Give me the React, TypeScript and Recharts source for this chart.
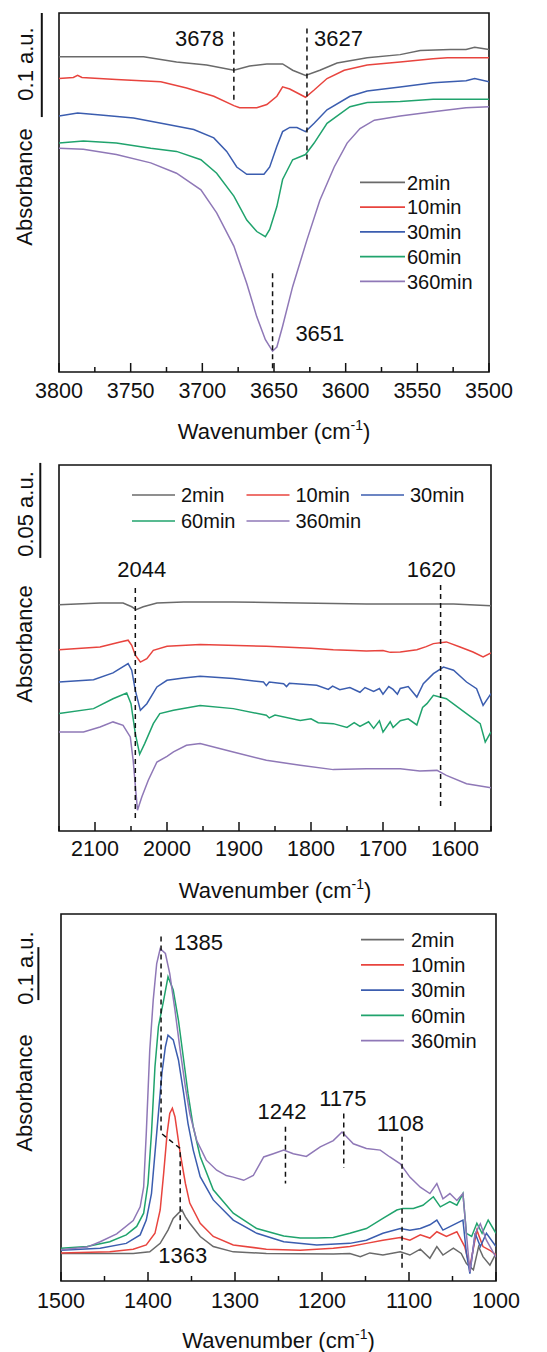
import React from "react";
import {
  LineChart,
  Line,
  XAxis,
  YAxis,
  ReferenceArea,
  ReferenceLine,
  ReferenceDot,
  Legend,
} from "recharts";

type Pt = [number, number]; // [wavenumber, absorbance]

const names = ["2min", "10min", "30min", "60min", "360min"];
const colors = ["#6a6a6a", "#e8443e", "#3b5daf", "#20a36d", "#8f78b7"];

// ---- O-H region, 3800-3500 cm-1
const oh2: Pt[] = [
  [3800, 0.303], [3741, 0.303], [3718, 0.298], [3697, 0.295], [3678, 0.29], [3667, 0.294],
  [3655, 0.296], [3644, 0.296], [3637, 0.29], [3628, 0.285], [3618, 0.29], [3606, 0.297],
  [3585, 0.302], [3562, 0.305], [3548, 0.309], [3527, 0.31], [3516, 0.31], [3510, 0.312], [3500, 0.31],
];
const oh10: Pt[] = [
  [3800, 0.282], [3790, 0.283], [3787, 0.285], [3784, 0.283], [3760, 0.281], [3729, 0.279],
  [3711, 0.273], [3692, 0.265], [3678, 0.256], [3674, 0.254], [3662, 0.254], [3655, 0.257],
  [3648, 0.265], [3644, 0.274], [3639, 0.272], [3628, 0.264], [3622, 0.271], [3613, 0.282],
  [3601, 0.29], [3585, 0.295], [3562, 0.298], [3539, 0.301], [3529, 0.302], [3500, 0.302],
];
const oh30: Pt[] = [
  [3800, 0.246], [3787, 0.249], [3771, 0.247], [3748, 0.244], [3725, 0.238], [3706, 0.233],
  [3692, 0.225], [3683, 0.212], [3676, 0.197], [3669, 0.19], [3657, 0.19], [3653, 0.197],
  [3648, 0.217], [3644, 0.231], [3639, 0.235], [3634, 0.235], [3628, 0.231], [3622, 0.239],
  [3613, 0.252], [3597, 0.265], [3585, 0.27], [3562, 0.274], [3539, 0.278], [3516, 0.28],
  [3510, 0.282], [3500, 0.279],
];
const oh60: Pt[] = [
  [3800, 0.22], [3783, 0.222], [3760, 0.22], [3736, 0.215], [3718, 0.212], [3701, 0.204],
  [3690, 0.191], [3678, 0.169], [3669, 0.146], [3662, 0.135], [3656, 0.13], [3653, 0.137],
  [3648, 0.159], [3644, 0.185], [3637, 0.204], [3628, 0.209], [3622, 0.22], [3613, 0.239],
  [3597, 0.255], [3585, 0.259], [3562, 0.26], [3539, 0.262], [3500, 0.262],
];
const oh360: Pt[] = [
  [3800, 0.215], [3783, 0.214], [3760, 0.209], [3736, 0.201], [3718, 0.191], [3701, 0.175],
  [3690, 0.153], [3678, 0.121], [3669, 0.085], [3662, 0.053], [3656, 0.031], [3651, 0.02],
  [3648, 0.024], [3644, 0.044], [3637, 0.082], [3627, 0.127], [3618, 0.165], [3608, 0.197],
  [3599, 0.22], [3590, 0.234], [3580, 0.242], [3562, 0.246], [3539, 0.25], [3516, 0.254], [3500, 0.255],
];
const ohMarks: Pt[][] = [
  [[3678, 0.327], [3678, 0.2615]],
  [[3627, 0.33], [3627, 0.201]],
  [[3651, 0.095], [3651, 0]],
];
const ohTicks = [3800, 3775, 3750, 3725, 3700, 3675, 3650, 3625, 3600, 3575, 3550, 3525, 3500];

// ---- 2150-1550 cm-1
const mid2: Pt[] = [
  [2150, 0.119], [2093, 0.12], [2061, 0.12], [2049, 0.118], [2043, 0.1165], [2033, 0.118],
  [2014, 0.12], [1977, 0.1205], [1908, 0.1205], [1815, 0.12], [1723, 0.1195], [1630, 0.1195],
  [1602, 0.1195], [1550, 0.1185],
];
const mid10: Pt[] = [
  [2150, 0.0954], [2093, 0.0968], [2065, 0.0995], [2054, 0.1004], [2049, 0.0977], [2044, 0.0925],
  [2037, 0.0889], [2028, 0.0907], [2019, 0.0951], [2000, 0.0972], [1954, 0.0982], [1862, 0.0972],
  [1800, 0.0962], [1769, 0.0954], [1740, 0.095], [1723, 0.0947], [1700, 0.095], [1690, 0.094],
  [1676, 0.0942], [1653, 0.0954], [1640, 0.097], [1630, 0.0986], [1612, 0.0995], [1593, 0.0968],
  [1575, 0.0942], [1561, 0.0916], [1550, 0.0937],
];
const mid30: Pt[] = [
  [2150, 0.0784], [2102, 0.0796], [2075, 0.0832], [2054, 0.0881], [2049, 0.0846], [2044, 0.074],
  [2037, 0.0635], [2028, 0.067], [2014, 0.0758], [2000, 0.0793], [1977, 0.0805], [1954, 0.0814],
  [1908, 0.0802], [1866, 0.0784], [1862, 0.0765], [1858, 0.0784], [1838, 0.0775], [1834, 0.076],
  [1830, 0.0778], [1792, 0.0767], [1776, 0.0745], [1770, 0.0762], [1760, 0.0744], [1746, 0.0755],
  [1732, 0.073], [1725, 0.0755], [1713, 0.0735], [1705, 0.075], [1700, 0.072], [1692, 0.076],
  [1686, 0.0745], [1680, 0.072], [1676, 0.075], [1665, 0.076], [1653, 0.0705], [1644, 0.0775],
  [1630, 0.0828], [1616, 0.0863], [1602, 0.0846], [1584, 0.0784], [1570, 0.0749], [1561, 0.0661],
  [1550, 0.0723],
];
const mid60: Pt[] = [
  [2150, 0.0618], [2102, 0.0644], [2075, 0.0696], [2056, 0.0726], [2050, 0.067], [2044, 0.0512],
  [2038, 0.0404], [2031, 0.046], [2019, 0.0565], [2010, 0.0618], [1991, 0.0635], [1954, 0.0661],
  [1908, 0.0644], [1862, 0.0609], [1858, 0.0595], [1850, 0.061], [1815, 0.0582], [1800, 0.059],
  [1790, 0.057], [1769, 0.0565], [1750, 0.0545], [1740, 0.057], [1732, 0.055], [1720, 0.0575],
  [1713, 0.054], [1705, 0.058], [1700, 0.052], [1690, 0.0575], [1686, 0.0545], [1676, 0.058],
  [1665, 0.059], [1653, 0.0558], [1645, 0.065], [1639, 0.067], [1630, 0.0714], [1612, 0.0696],
  [1584, 0.0618], [1565, 0.0565], [1558, 0.0468], [1550, 0.0521],
];
const mid360: Pt[] = [
  [2150, 0.0521], [2116, 0.0521], [2093, 0.0547], [2075, 0.0574], [2061, 0.0556], [2051, 0.0495],
  [2047, 0.0372], [2043, 0.0196], [2041, 0.0109], [2035, 0.0179], [2026, 0.0267], [2014, 0.0363],
  [2000, 0.0393], [1991, 0.0416], [1973, 0.0451], [1954, 0.046], [1908, 0.0416], [1862, 0.0372],
  [1815, 0.0346], [1769, 0.0323], [1723, 0.0328], [1676, 0.0328], [1649, 0.0316], [1625, 0.0319],
  [1612, 0.0293], [1584, 0.0249], [1550, 0.0228],
];
const midMarks: Pt[][] = [
  [[2044, 0.1279], [2044, 0.0058]],
  [[1620, 0.1295], [1620, 0.0126]],
];
const midTicks = [2150, 2100, 2050, 2000, 1950, 1900, 1850, 1800, 1750, 1700, 1650, 1600, 1550];

// ---- 1500-1000 cm-1
const low2: Pt[] = [
  [1500, 0.052], [1417, 0.052], [1398, 0.055], [1386, 0.071], [1377, 0.096], [1371, 0.118],
  [1365, 0.128], [1361, 0.134], [1357, 0.121], [1352, 0.109], [1340, 0.084], [1325, 0.065],
  [1302, 0.055], [1264, 0.052], [1187, 0.051], [1168, 0.052], [1156, 0.046], [1145, 0.053],
  [1130, 0.049], [1110, 0.055], [1099, 0.049], [1087, 0.06], [1076, 0.043], [1068, 0.065],
  [1061, 0.049], [1049, 0.062], [1040, 0.052], [1034, 0.033], [1026, 0.021], [1020, 0.065],
  [1015, 0.046], [1007, 0.03], [1000, 0.052],
];
const low10: Pt[] = [
  [1500, 0.053], [1444, 0.055], [1417, 0.06], [1402, 0.068], [1392, 0.09], [1386, 0.134],
  [1382, 0.203], [1378, 0.279], [1375, 0.316], [1372, 0.326], [1369, 0.31], [1363, 0.241],
  [1357, 0.184], [1352, 0.147], [1340, 0.109], [1325, 0.084], [1302, 0.068], [1264, 0.06],
  [1225, 0.058], [1187, 0.062], [1168, 0.065], [1149, 0.071], [1130, 0.077], [1110, 0.082],
  [1099, 0.077], [1087, 0.087], [1076, 0.081], [1068, 0.093], [1057, 0.084], [1045, 0.093],
  [1036, 0.065], [1030, 0.027], [1022, 0.096], [1015, 0.065], [1007, 0.058], [1000, 0.049],
];
const low30: Pt[] = [
  [1500, 0.058], [1455, 0.062], [1425, 0.071], [1409, 0.087], [1402, 0.115], [1396, 0.165],
  [1390, 0.279], [1384, 0.392], [1380, 0.442], [1377, 0.464], [1371, 0.455], [1365, 0.417],
  [1359, 0.354], [1354, 0.297], [1348, 0.247], [1340, 0.197], [1325, 0.153], [1302, 0.115],
  [1275, 0.09], [1244, 0.074], [1206, 0.068], [1168, 0.071], [1149, 0.077], [1130, 0.09],
  [1110, 0.099], [1099, 0.096], [1087, 0.099], [1076, 0.106], [1068, 0.115], [1061, 0.096],
  [1049, 0.106], [1038, 0.115], [1034, 0.052], [1030, 0.014], [1024, 0.09], [1018, 0.065],
  [1011, 0.09], [1000, 0.065],
];
const low60: Pt[] = [
  [1500, 0.062], [1470, 0.065], [1444, 0.074], [1425, 0.087], [1413, 0.103], [1405, 0.128],
  [1400, 0.184], [1396, 0.279], [1392, 0.404], [1388, 0.48], [1382, 0.53], [1377, 0.574],
  [1371, 0.549], [1365, 0.492], [1359, 0.417], [1354, 0.354], [1348, 0.291], [1340, 0.235],
  [1325, 0.172], [1302, 0.128], [1275, 0.099], [1244, 0.085], [1225, 0.081], [1206, 0.081],
  [1187, 0.082], [1168, 0.09], [1149, 0.099], [1130, 0.118], [1114, 0.134], [1107, 0.137],
  [1095, 0.137], [1084, 0.143], [1072, 0.159], [1064, 0.14], [1053, 0.15], [1045, 0.143],
  [1038, 0.165], [1034, 0.09], [1028, 0.084], [1022, 0.109], [1016, 0.09], [1009, 0.115], [1000, 0.09],
];
const low360: Pt[] = [
  [1500, 0.059], [1470, 0.064], [1455, 0.074], [1436, 0.089], [1417, 0.114], [1409, 0.14],
  [1405, 0.177], [1402, 0.278], [1398, 0.435], [1394, 0.53], [1390, 0.599], [1386, 0.627],
  [1380, 0.618], [1375, 0.58], [1369, 0.511], [1363, 0.435], [1357, 0.366], [1352, 0.316],
  [1344, 0.265], [1333, 0.228], [1321, 0.209], [1310, 0.199], [1302, 0.196], [1290, 0.19],
  [1279, 0.199], [1267, 0.234], [1256, 0.24], [1244, 0.247], [1233, 0.24], [1218, 0.235],
  [1202, 0.253], [1187, 0.265], [1177, 0.281], [1164, 0.259], [1149, 0.25], [1133, 0.247],
  [1122, 0.234], [1110, 0.221], [1099, 0.196], [1087, 0.177], [1076, 0.165], [1068, 0.184],
  [1061, 0.155], [1053, 0.165], [1045, 0.152], [1038, 0.165], [1034, 0.089], [1030, 0.017],
  [1024, 0.089], [1018, 0.108], [1011, 0.077], [1000, 0.045],
];
const lowMarks: Pt[][] = [
  [[1385, 0.65], [1385, 0.279], [1363, 0.25], [1363, 0.096]],
  [[1242, 0.291], [1242, 0.184]],
  [[1175, 0.316], [1175, 0.213]],
  [[1108, 0.272], [1108, 0.021]],
];
const lowTicks = [1500, 1450, 1400, 1350, 1300, 1250, 1200, 1150, 1100, 1050, 1000];

const W = 547;
const FONT = "'Liberation Sans', Arial, sans-serif";
const toRows = (pts: Pt[]) => pts.map(([wn, a]) => ({ wn, a }));

type Note = { text: string; wn: number; a: number };
type LegendCfg = { left: number; top: number; cols: number; colW: number; rowH: number; line: number; gap: number };
type PanelProps = {
  top: number;
  height: number;
  margin: { top: number; right: number; bottom: number; left: number };
  axisH: number;
  xDomain: [number, number];
  ticks: number[];
  major: number;
  tickDy: number;
  yMax: number;
  curves: Pt[][];
  marks: Pt[][];
  notes: Note[];
  bar: { wn: number; a0: number; a1: number };
  barText: string;
  barTextY: number;
  absY: number;
  legend: LegendCfg;
};

function renderTick(props: any, major: number, dy: number) {
  const { x, y, payload } = props;
  const isMajor = payload.value % major === 0;
  return (
    <g>
      <line x1={x} x2={x} y1={y} y2={y - (isMajor ? 9 : 5)} stroke="#111" strokeWidth={1.5} />
      {isMajor && (
        <text x={x} y={y + dy} textAnchor="middle" fontSize={21.5} fill="#111">
          {payload.value}
        </text>
      )}
    </g>
  );
}

function AxisTitle(props: any) {
  const { x, y, width } = props.viewBox;
  return (
    <text x={x + width / 2} y={y + 67} textAnchor="middle" fontSize={22} fill="#111">
      Wavenumber (cm
      <tspan dy={-9} fontSize={14}>-1</tspan>
      <tspan dy={9}>)</tspan>
    </text>
  );
}

function makeLegend(cfg: LegendCfg) {
  return (props: any) => {
    const payload = props.payload || [];
    // only the five time series, in their original order
    const items = names
      .map((n) => payload.find((it: any) => it.value === n))
      .filter(Boolean);
    const rows = Math.ceil(items.length / cfg.cols);
    return (
      <svg width={cfg.cols * cfg.colW} height={rows * cfg.rowH} style={{ display: "block", overflow: "visible" }}>
        {items.map((it: any, i: number) => {
          const x = (i % cfg.cols) * cfg.colW;
          const y = Math.floor(i / cfg.cols) * cfg.rowH + cfg.rowH / 2;
          return (
            <g key={it.value}>
              <line x1={x} x2={x + cfg.line} y1={y} y2={y} stroke={it.color} strokeWidth={1.6} />
              <text x={x + cfg.line + cfg.gap} y={y} dy="0.36em" fontSize={20} fill="#111">
                {it.value}
              </text>
            </g>
          );
        })}
      </svg>
    );
  };
}

function Panel(p: PanelProps) {
  const lg = p.legend;
  return (
    <div style={{ position: "absolute", left: 0, top: p.top, width: W, height: p.height }}>
      <LineChart width={W} height={p.height} margin={p.margin}>
        <XAxis
          dataKey="wn"
          type="number"
          domain={p.xDomain}
          reversed
          allowDataOverflow
          ticks={p.ticks}
          interval={0}
          axisLine={false}
          tickLine={false}
          tickSize={0}
          tickMargin={0}
          height={p.axisH}
          tick={(tp: any) => renderTick(tp, p.major, p.tickDy)}
          label={<AxisTitle />}
        />
        <YAxis hide type="number" domain={[0, p.yMax]} allowDataOverflow />
        <ReferenceArea
          x1={p.xDomain[0]}
          x2={p.xDomain[1]}
          y1={0}
          y2={p.yMax}
          fill="none"
          fillOpacity={0}
          stroke="#111"
          strokeWidth={1.6}
          ifOverflow="visible"
        />
        <ReferenceLine
          segment={[{ x: p.bar.wn, y: p.bar.a0 }, { x: p.bar.wn, y: p.bar.a1 }]}
          stroke="#111"
          strokeWidth={2}
          ifOverflow="visible"
        />
        {p.curves.map((pts, i) => (
          <Line
            key={names[i]}
            data={toRows(pts)}
            dataKey="a"
            name={names[i]}
            type="linear"
            stroke={colors[i]}
            strokeWidth={1.5}
            dot={false}
            isAnimationActive={false}
          />
        ))}
        {p.marks.map((pts, i) => (
          <Line
            key={"mark" + i}
            data={toRows(pts)}
            dataKey="a"
            name={"mark" + i}
            type="linear"
            stroke="#111"
            strokeWidth={1.5}
            strokeDasharray="5 4"
            dot={false}
            legendType="none"
            isAnimationActive={false}
          />
        ))}
        {p.notes.map((n) => (
          <ReferenceDot
            key={n.text}
            x={n.wn}
            y={n.a}
            r={0}
            fill="none"
            stroke="none"
            label={{ value: n.text, position: "center", fontSize: 22, fill: "#111" }}
          />
        ))}
        <Legend
          layout="horizontal"
          verticalAlign="middle"
          align="center"
          wrapperStyle={{ left: lg.left, top: lg.top, width: lg.cols * lg.colW, height: "auto" }}
          content={makeLegend(lg)}
        />
      </LineChart>
      <svg
        width={W}
        height={p.height}
        style={{ position: "absolute", left: 0, top: 0, pointerEvents: "none" }}
      >
        <text transform={`translate(25 ${p.barTextY}) rotate(-90)`} textAnchor="middle" dy="0.36em" fontSize={22} fill="#111">
          {p.barText}
        </text>
        <text transform={`translate(24 ${p.absY}) rotate(-90)`} textAnchor="middle" dy="0.36em" fontSize={22} fill="#111">
          Absorbance
        </text>
      </svg>
    </div>
  );
}

export default function App() {
  return (
    <div style={{ position: "absolute", left: 0, top: 0, width: W, height: 1352, background: "#fff", fontFamily: FONT }}>
      <Panel
        top={0}
        height={450}
        margin={{ top: 13, right: 58, bottom: 0, left: 59 }}
        axisH={78}
        xDomain={[3500, 3800]}
        ticks={ohTicks}
        major={50}
        tickDy={25.7}
        yMax={0.345}
        curves={[oh2, oh10, oh30, oh60, oh360]}
        marks={ohMarks}
        notes={[
          { text: "3678", wn: 3702, a: 0.321 },
          { text: "3627", wn: 3605, a: 0.321 },
          { text: "3651", wn: 3618, a: 0.0375 },
        ]}
        bar={{ wn: 3812, a0: 0.345, a1: 0.245 }}
        barText="0.1 a.u."
        barTextY={64}
        absY={187}
        legend={{ left: 360, top: 170, cols: 1, colW: 120, rowH: 24.75, line: 45, gap: 2 }}
      />
      <Panel
        top={450}
        height={462}
        margin={{ top: 15, right: 56, bottom: 0, left: 59 }}
        axisH={81}
        xDomain={[1550, 2150]}
        ticks={midTicks}
        major={100}
        tickDy={24.7}
        yMax={0.1926}
        curves={[mid2, mid10, mid30, mid60, mid360]}
        marks={midMarks}
        notes={[
          { text: "2044", wn: 2035, a: 0.1379 },
          { text: "1620", wn: 1633, a: 0.1379 },
        ]}
        bar={{ wn: 2176, a0: 0.1937, a1: 0.1437 }}
        barText="0.05 a.u."
        barTextY={64}
        absY={194}
        legend={{ left: 132, top: 32, cols: 3, colW: 114.5, rowH: 26, line: 43, gap: 6 }}
      />
      <Panel
        top={900}
        height={452}
        margin={{ top: 14, right: 51, bottom: 0, left: 61 }}
        axisH={71}
        xDomain={[1000, 1500]}
        ticks={lowTicks}
        major={100}
        tickDy={26.7}
        yMax={0.6925}
        curves={[low2, low10, low30, low60, low360]}
        marks={lowMarks}
        notes={[
          { text: "1385", wn: 1342, a: 0.64 },
          { text: "1242", wn: 1246, a: 0.321 },
          { text: "1175", wn: 1176, a: 0.345 },
          { text: "1108", wn: 1110, a: 0.298 },
          { text: "1363", wn: 1360, a: 0.049 },
        ]}
        bar={{ wn: 1526, a0: 0.63, a1: 0.53 }}
        barText="0.1 a.u."
        barTextY={68}
        absY={193}
        legend={{ left: 361, top: 27, cols: 1, colW: 120, rowH: 25.25, line: 43, gap: 7 }}
      />
    </div>
  );
}
